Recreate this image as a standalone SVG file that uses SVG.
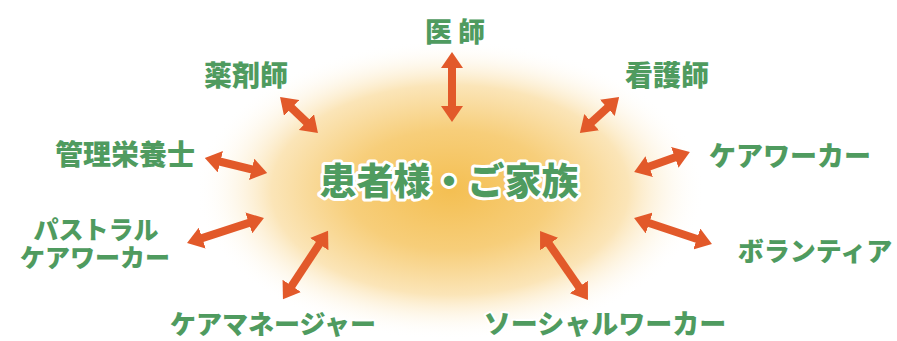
<svg xmlns="http://www.w3.org/2000/svg" width="897" height="341" viewBox="0 0 897 341">
<style>
.lbl{font-family:"Noto Sans CJK JP","Noto Sans",sans-serif;font-weight:900;fill:#4F9B5F;stroke:#ffffff;stroke-width:4;stroke-linejoin:round;paint-order:stroke;text-anchor:middle}
.s27{font-size:27px}
.s26{font-size:26px}
.s25{font-size:25px}
.s28{font-size:28px}
.center{font-size:37px;stroke-width:6}
.arr{stroke:#E2592A;stroke-width:8;fill:none;marker-start:url(#head);marker-end:url(#head)}
</style>
<defs>
<radialGradient id="glow" cx="0.5" cy="0.5" r="0.5">
<stop offset="0" stop-color="#F4BF52"/>
<stop offset="0.4" stop-color="#F7CE7A"/>
<stop offset="0.7" stop-color="#FBE5B8"/>
<stop offset="1" stop-color="#FFFFFF" stop-opacity="0"/>
</radialGradient>
<marker id="head" viewBox="0 0 16 22" refX="5" refY="11" markerWidth="16" markerHeight="22" markerUnits="userSpaceOnUse" orient="auto-start-reverse">
<path d="M0,0 L16,11 L0,22 Z" fill="#E2592A"/>
</marker>
</defs>
<rect width="897" height="341" fill="#FFFFFF"/>
<ellipse cx="450" cy="190" rx="255" ry="150" fill="url(#glow)"/>
<g id="connectors">
<line class="arr" x1="452" y1="63" x2="452" y2="111"/>
<line class="arr" x1="288" y1="104.5" x2="310" y2="125.5"/>
<line class="arr" x1="611" y1="104.5" x2="588" y2="125.5"/>
<line class="arr" x1="215.5" y1="160.5" x2="256.5" y2="170.5"/>
<line class="arr" x1="197.5" y1="239.6" x2="253.5" y2="221.4"/>
<line class="arr" x1="289" y1="290" x2="322" y2="240"/>
<line class="arr" x1="546.3" y1="240" x2="581.7" y2="291"/>
<line class="arr" x1="644.5" y1="221.5" x2="701.5" y2="240.5"/>
<line class="arr" x1="644.5" y1="168.3" x2="679.5" y2="155.7"/>
</g>
<g id="center"><text class="lbl center" x="449" y="195">患者様・ご家族</text></g>
<g id="doctor"><text class="lbl s27" x="455" y="42">医 師</text></g>
<g id="pharmacist"><text class="lbl s28" x="246" y="86">薬剤師</text></g>
<g id="nurse"><text class="lbl s28" x="667" y="86">看護師</text></g>
<g id="dietitian"><text class="lbl s28" x="125" y="165">管理栄養士</text></g>
<g id="careworker"><text class="lbl s27" x="790" y="166">ケアワーカー</text></g>
<g id="pastoral"><text class="lbl s25"><tspan x="96" y="239">パストラル</tspan><tspan x="95" y="267">ケアワーカー</tspan></text></g>
<g id="volunteer"><text class="lbl s26" x="815" y="261">ボランティア</text></g>
<g id="caremanager"><text class="lbl s26" x="273" y="334">ケアマネージャー</text></g>
<g id="socialworker"><text class="lbl s27" x="605" y="334">ソーシャルワーカー</text></g>
</svg>
